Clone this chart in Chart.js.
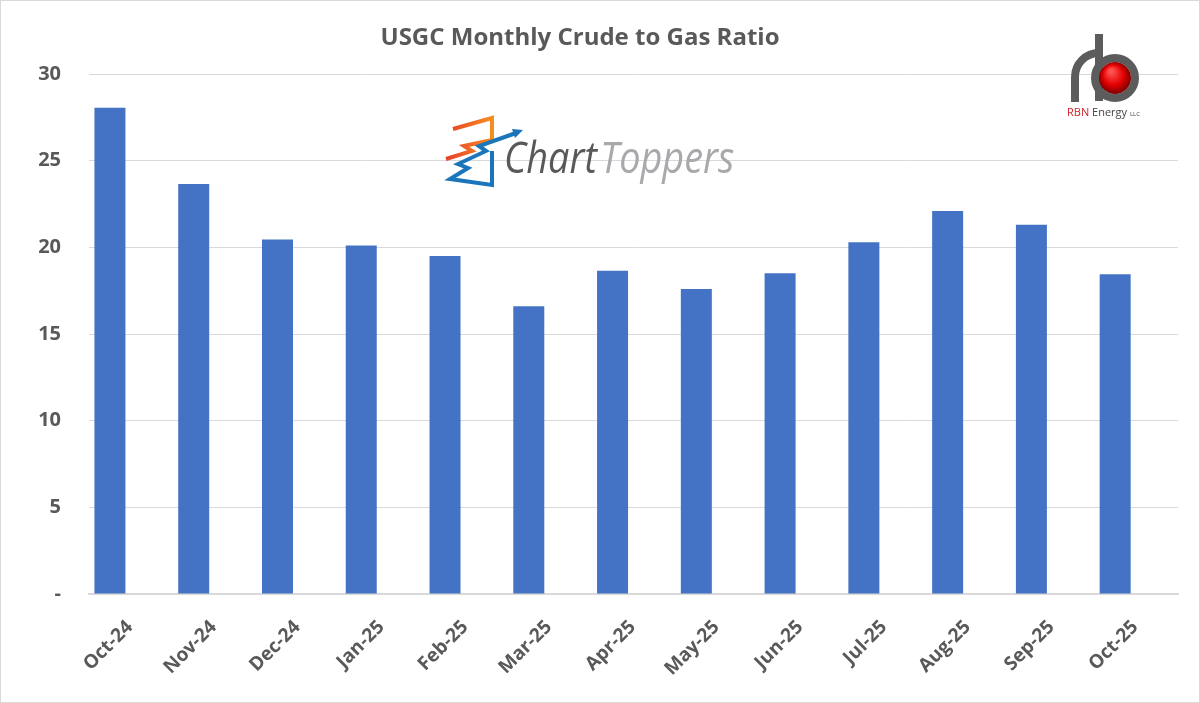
<!DOCTYPE html>
<html lang="en">
<head>
<meta charset="UTF-8">
<title>USGC Monthly Crude to Gas Ratio</title>
<script src="https://cdn.jsdelivr.net/npm/chart.js"></script>
<style>
  html, body { margin: 0; padding: 0; background: #fff; }
  .frame { width: 1200px; height: 703px; box-sizing: border-box; border: 1px solid #d9d9d9; }
  #chart { display: block; }
</style>
</head>
<body>
<div class="frame">
  <canvas id="chart" width="1198" height="701"></canvas>
</div>
<script>
// values
var months = ['Oct-24', 'Nov-24', 'Dec-24', 'Jan-25', 'Feb-25', 'Mar-25', 'Apr-25',
              'May-25', 'Jun-25', 'Jul-25', 'Aug-25', 'Sep-25', 'Oct-25'];
var ratio = [28.05, 23.65, 20.45, 20.1, 19.5, 16.6, 18.65, 17.6, 18.5, 20.3, 22.1, 21.3, 18.45];
var yTicks = [0, 5, 10, 15, 20, 25, 30];
var chartTitle = 'USGC Monthly Crude to Gas Ratio';

var grey = '#595959';
var font = '"Open Sans", "Noto Sans", sans-serif';

// title + the two watermark logos
var decor = {
  id: 'decor',
  afterDraw: function (chart) {
    var c = chart.ctx;
    c.save();

    c.font = 'bold 24px ' + font;
    c.fillStyle = grey;
    c.textAlign = 'center';
    c.textBaseline = 'middle';
    c.fillText(chartTitle, 579, 37);
    c.textAlign = 'left';

    // Chart Toppers icon
    c.lineJoin = 'miter';
    c.lineWidth = 4;
    var og = c.createLinearGradient(445, 0, 495, 0);
    og.addColorStop(0, '#e8402a');
    og.addColorStop(1, '#f7941d');
    c.strokeStyle = og;
    c.beginPath();
    c.moveTo(452, 128); c.lineTo(491, 117); c.lineTo(491, 139);
    c.lineTo(463, 145); c.lineTo(471, 150); c.lineTo(445, 158);
    c.stroke();
    c.strokeStyle = '#1a75bb';
    c.beginPath();
    c.moveTo(515, 132); c.lineTo(478, 145); c.lineTo(485, 150);
    c.lineTo(457, 163); c.lineTo(467, 167); c.lineTo(449, 178);
    c.lineTo(491, 184); c.lineTo(491, 150);
    c.stroke();
    c.fillStyle = '#1a75bb';
    c.beginPath();
    c.moveTo(522, 129); c.lineTo(511, 128); c.lineTo(514, 137);
    c.fill();

    // Chart Toppers text
    c.save();
    c.translate(503, 172);
    c.scale(0.86, 1);
    c.textBaseline = 'alphabetic';
    c.font = 'italic 44px ' + font;
    c.fillStyle = '#58595b';
    c.fillText('Chart', 0, 0);
    var w = c.measureText('Chart').width + 4;
    c.fillStyle = '#a7a9ac';
    c.fillText('Toppers', w, 0);
    c.restore();

    // RBN Energy logo
    c.lineCap = 'butt';
    c.strokeStyle = '#5c5c5c';
    c.lineWidth = 8;
    c.beginPath();
    c.moveTo(1098, 33); c.lineTo(1098, 100);
    c.stroke();
    c.beginPath();
    c.moveTo(1074, 101); c.lineTo(1074, 76);
    c.arc(1098, 76, 24, Math.PI, Math.PI * 1.5);
    c.stroke();
    c.beginPath();
    c.arc(1114, 77, 20, 0, Math.PI * 2);
    c.stroke();
    var g = c.createRadialGradient(1110, 70, 2, 1114, 77, 17);
    g.addColorStop(0, '#ff5050');
    g.addColorStop(0.55, '#e30000');
    g.addColorStop(1, '#6e0000');
    c.fillStyle = g;
    c.beginPath();
    c.arc(1114, 77, 16, 0, Math.PI * 2);
    c.fill();

    c.textBaseline = 'alphabetic';
    c.font = '11px ' + font;
    c.fillStyle = '#d2232a';
    c.fillText('RBN', 1066, 115);
    var rw = c.measureText('RBN ').width;
    c.fillStyle = '#444';
    c.fillText('Energy', 1066 + rw, 115);
    var ew = c.measureText('Energy ').width;
    c.font = '6px ' + font;
    c.fillText('LLC', 1066 + rw + ew, 115);

    c.restore();
  }
};

new Chart(document.getElementById('chart').getContext('2d'), {
  type: 'bar',
  data: {
    datasets: [{
      label: 'Crude to Gas Ratio',
      data: ratio.map(function (v, i) { return { x: i, y: v }; }),
      backgroundColor: '#4472c4',
      borderWidth: 0,
      barPercentage: 0.37,
      categoryPercentage: 1
    }]
  },
  options: {
    responsive: false,
    animation: false,
    layout: { padding: { top: 73, right: 21, bottom: 0, left: 0 } },
    plugins: {
      legend: { display: false },
      tooltip: { enabled: false },
      title: { display: false }
    },
    scales: {
      x: {
        type: 'linear',
        offset: false,
        min: -0.25,
        max: 12.75,
        afterBuildTicks: function (axis) {
          axis.ticks = months.map(function (m, i) { return { value: i }; });
        },
        grid: { display: false, offset: false },
        border: { color: '#d9d9d9', width: 2 },
        ticks: {
          autoSkip: false,
          color: grey,
          font: { family: font, size: 19, weight: 'bold' },
          minRotation: 45,
          maxRotation: 45,
          labelOffset: 20,
          padding: 14,
          callback: function (v) { return months[v]; }
        },
        afterFit: function (axis) { axis.height = 108; }
      },
      y: {
        min: 0,
        max: 30,
        afterBuildTicks: function (axis) {
          axis.ticks = yTicks.map(function (v) { return { value: v }; });
        },
        grid: { color: '#d9d9d9', drawTicks: false },
        border: { display: false },
        ticks: {
          color: grey,
          font: { family: font, size: 20, weight: 'bold' },
          padding: 28,
          callback: function (v) { return v === 0 ? '-' : v; }
        },
        afterFit: function (axis) { axis.width = 88; }
      }
    }
  },
  plugins: [decor]
});
</script>
</body>
</html>
